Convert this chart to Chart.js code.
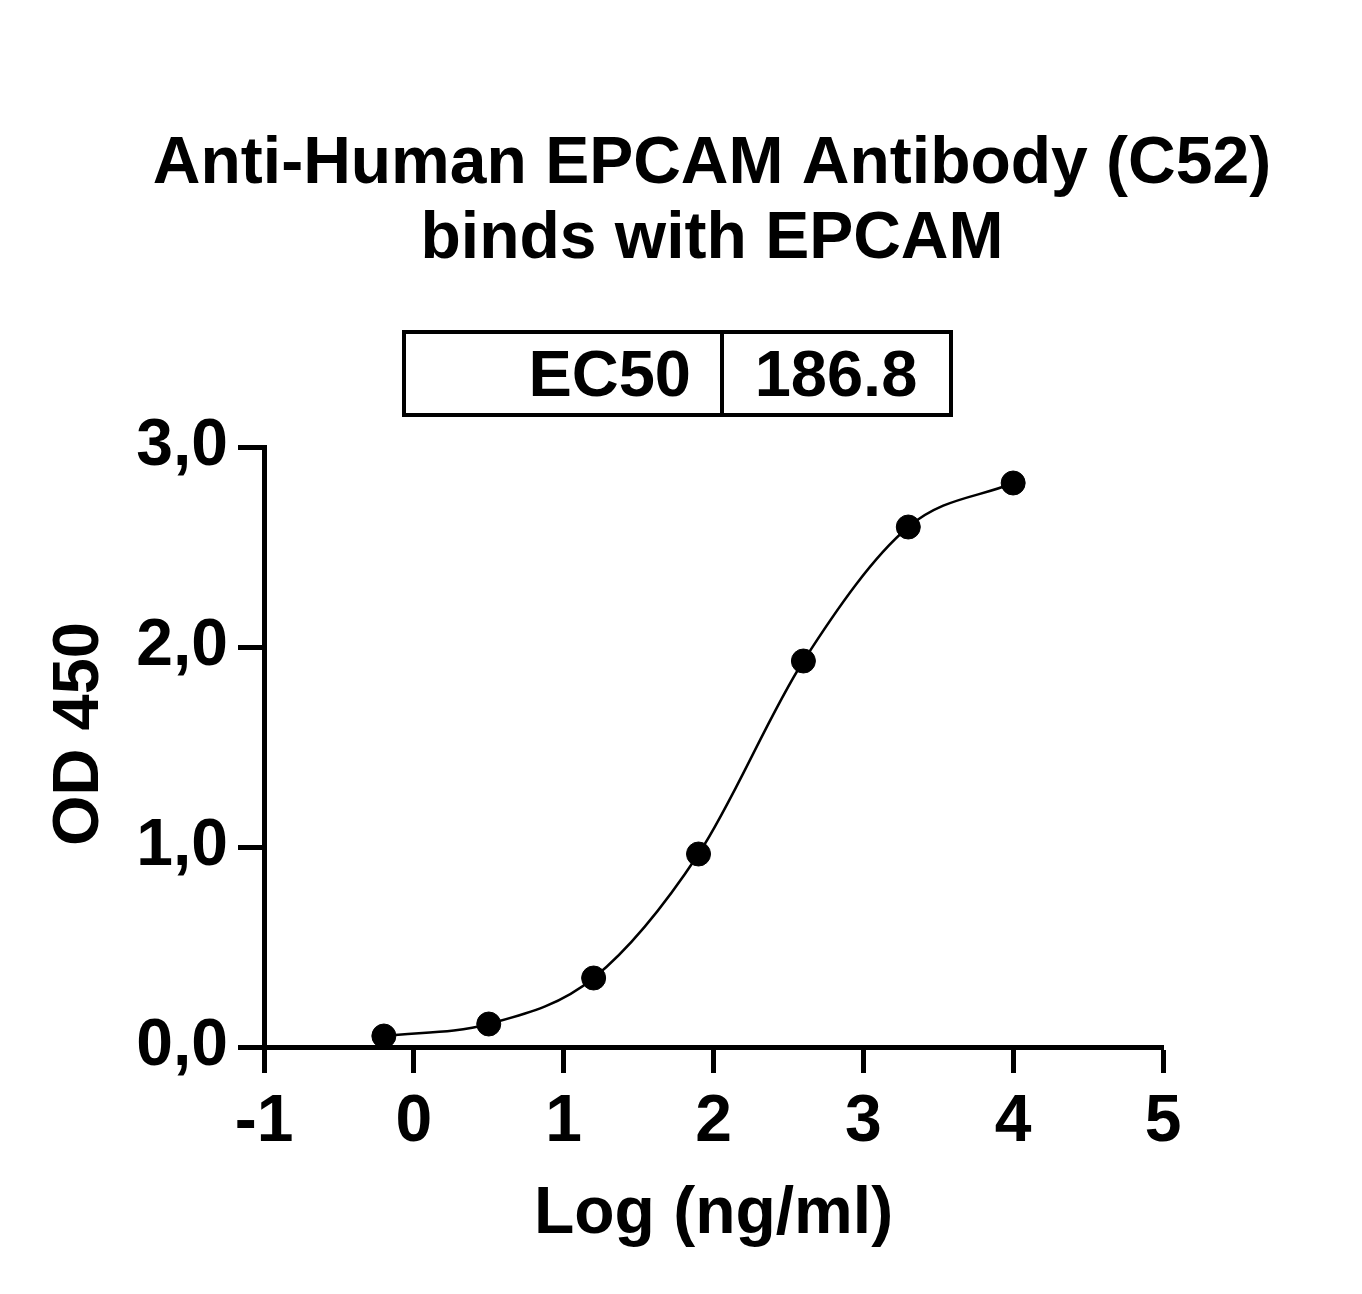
<!DOCTYPE html>
<html>
<head>
<meta charset="utf-8">
<script src="https://cdn.jsdelivr.net/npm/chart.js@4/dist/chart.umd.min.js"></script>
<style>
html,body{margin:0;padding:0;background:#fff;}
#wrap{width:1362px;height:1294px;position:relative;}
canvas{display:block;}
</style>
</head>
<body>
<div id="wrap"><canvas id="c" width="1362" height="1294"></canvas></div>
<script>
// Data
const logConc = [-0.2, 0.5, 1.2, 1.9, 2.6, 3.3, 4.0];
const od450 = [0.055, 0.115, 0.345, 0.965, 1.93, 2.6, 2.82];
const titleLines = ["Anti-Human EPCAM Antibody (C52)", "binds with EPCAM"];
const ec50Label = "EC50";
const ec50Value = "186.8";
const xTitle = "Log (ng/ml)";
const yTitle = "OD 450";

const FONT = "'Liberation Sans', Arial, sans-serif";
const pts = logConc.map((x, i) => ({x: x, y: od450[i]}));

const decor = {
  id: 'decor',
  afterDraw(chart) {
    const ctx = chart.ctx;
    ctx.save();
    ctx.fillStyle = '#000';
    ctx.textAlign = 'center';
    ctx.textBaseline = 'alphabetic';
    ctx.font = "bold 66px " + FONT;
    ctx.fillText(titleLines[0], 712, 183);
    ctx.fillText(titleLines[1], 712, 258);
    // EC50 box
    ctx.lineWidth = 4;
    ctx.strokeStyle = '#000';
    ctx.strokeRect(404, 332, 547, 83);
    ctx.beginPath();
    ctx.moveTo(722, 332);
    ctx.lineTo(722, 415);
    ctx.stroke();
    ctx.font = "bold 65px " + FONT;
    ctx.textAlign = 'right';
    ctx.fillText(ec50Label, 691, 396);
    ctx.textAlign = 'center';
    ctx.fillText(ec50Value, 836, 396);
    // y axis title
    ctx.save();
    ctx.translate(80, 734);
    ctx.rotate(-Math.PI / 2);
    ctx.textAlign = 'center';
    ctx.textBaseline = 'middle';
    ctx.font = "bold 65px " + FONT;
    ctx.fillText(yTitle, 0, 0);
    ctx.restore();
    ctx.restore();
  }
};

new Chart(document.getElementById('c'), {
  type: 'scatter',
  data: {
    datasets: [
      {
        type: 'line',
        data: pts,
        borderColor: '#000',
        borderWidth: 2.5,
        pointRadius: 0,
        fill: false,
        cubicInterpolationMode: 'monotone'
      },
      {
        type: 'scatter',
        data: pts,
        backgroundColor: '#000',
        borderColor: '#000',
        pointRadius: 12,
        pointHoverRadius: 12
      }
    ]
  },
  options: {
    responsive: false,
    animation: false,
    devicePixelRatio: 1,
    layout: {padding: {top: 447, right: 199, left: 0, bottom: 0}},
    plugins: {legend: {display: false}, tooltip: {enabled: false}},
    scales: {
      x: {
        type: 'linear',
        min: -1, max: 5,
        afterFit(scale) { scale.height = 247; },
        border: {display: true, width: 5, color: '#000'},
        grid: {drawOnChartArea: false, drawTicks: true, tickLength: 26, tickWidth: 5, tickColor: '#000'},
        ticks: {stepSize: 1, color: '#000', padding: 10, font: {family: FONT, size: 66, weight: 'bold'}},
        title: {display: true, text: xTitle, color: '#000', font: {family: FONT, size: 66, weight: 'bold'}, padding: {top: 0, bottom: 40}}
      },
      y: {
        type: 'linear',
        min: 0, max: 3,
        afterFit(scale) { scale.width = 264; },
        border: {display: true, width: 5, color: '#000'},
        grid: {drawOnChartArea: false, drawTicks: true, tickLength: 26, tickWidth: 5, tickColor: '#000'},
        ticks: {stepSize: 1, color: '#000', padding: 10, font: {family: FONT, size: 66, weight: 'bold'},
          callback: v => v.toFixed(1).replace('.', ',')},
        title: {display: false}
      }
    }
  },
  plugins: [decor]
});
</script>
</body>
</html>
